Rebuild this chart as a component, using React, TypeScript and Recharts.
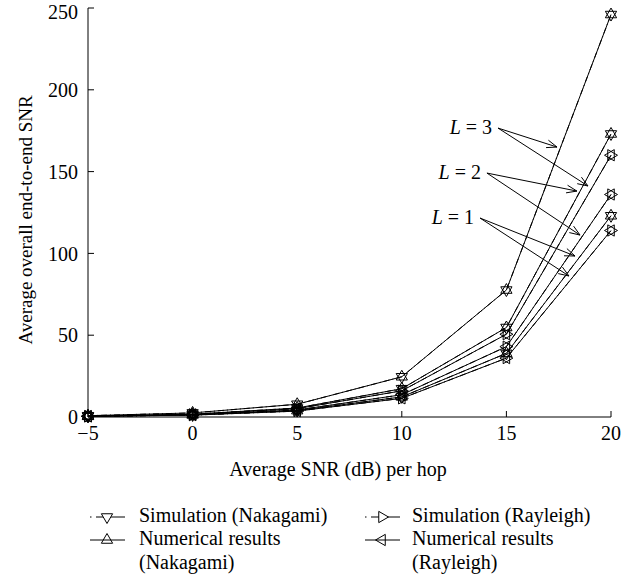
import React from 'react';
import { LineChart, Line, XAxis, YAxis, ReferenceLine, Legend } from 'recharts';

const snrPerHop = [-5, 0, 5, 10, 15, 20];
const xTicks = [-5, 0, 5, 10, 15, 20];
const yTicks = [0, 50, 100, 150, 200, 250];

const simNakagamiL3 = [0.8, 2.5, 7.8, 24.6, 77.6, 246];
const numNakagamiL3 = [0.8, 2.5, 7.8, 24.6, 77.6, 246];
const simNakagamiL2 = [0.55, 1.7, 5.5, 17.3, 54.7, 173];
const numNakagamiL2 = [0.55, 1.7, 5.5, 17.3, 54.7, 173];
const simNakagamiL1 = [0.39, 1.23, 3.9, 12.3, 38.9, 123];
const numNakagamiL1 = [0.39, 1.23, 3.9, 12.3, 38.9, 123];
const simRayleighL3 = [0.5, 1.6, 5.1, 16.0, 50.6, 160];
const numRayleighL3 = [0.5, 1.6, 5.1, 16.0, 50.6, 160];
const simRayleighL2 = [0.43, 1.36, 4.3, 13.6, 43.0, 136];
const numRayleighL2 = [0.43, 1.36, 4.3, 13.6, 43.0, 136];
const simRayleighL1 = [0.36, 1.14, 3.6, 11.4, 36.0, 114];
const numRayleighL1 = [0.36, 1.14, 3.6, 11.4, 36.0, 114];

const annLabels = ['3', '2', '1'];
const annStartX = [14.6, 14.07, 13.74];
const annStartY = [176.6, 149.1, 121.6];
const annTipX = [[17.42, 18.9], [18.37, 18.52], [18.28, 17.99]];
const annTipY = [[165.0, 141.2], [138.1, 111.2], [98.4, 86.2]];

const legendLabels = [
  ['Simulation (Nakagami)'],
  ['Simulation (Rayleigh)'],
  ['Numerical results', '(Nakagami)'],
  ['Numerical results', '(Rayleigh)'],
];

const data = snrPerHop.map((x, i) => ({
  x,
  sN3: simNakagamiL3[i], nN3: numNakagamiL3[i],
  sN2: simNakagamiL2[i], nN2: numNakagamiL2[i],
  sN1: simNakagamiL1[i], nN1: numNakagamiL1[i],
  sR3: simRayleighL3[i], nR3: numRayleighL3[i],
  sR2: simRayleighL2[i], nR2: numRayleighL2[i],
  sR1: simRayleighL1[i], nR1: numRayleighL1[i],
}));

const FONT = '"Liberation Serif", "Times New Roman", serif';
const R = 6.5;

type Dir = 'up' | 'down' | 'left' | 'right';
const triPath = (cx: number, cy: number, d: Dir) => {
  const a = R, b = R * 0.866, c = R * 0.5;
  switch (d) {
    case 'up': return `M${cx},${cy - a}L${cx + b},${cy + c}L${cx - b},${cy + c}Z`;
    case 'down': return `M${cx},${cy + a}L${cx + b},${cy - c}L${cx - b},${cy - c}Z`;
    case 'right': return `M${cx + a},${cy}L${cx - c},${cy + b}L${cx - c},${cy - b}Z`;
    default: return `M${cx - a},${cy}L${cx + c},${cy + b}L${cx + c},${cy - b}Z`;
  }
};

const makeDot = (d: Dir) => (p: any) => {
  if (p.cx == null || p.cy == null) return <g key={p.index} />;
  return <path key={p.index} d={triPath(p.cx, p.cy, d)} fill="none" stroke="#000" strokeWidth={1} />;
};

const makeArrow = (label: string | null) => (p: any) => {
  const { x1, y1, x2, y2 } = p;
  const ang = Math.atan2(y2 - y1, x2 - x1);
  const L = 11, w = 0.36;
  const ax = x2 - L * Math.cos(ang - w), ay = y2 - L * Math.sin(ang - w);
  const bx = x2 - L * Math.cos(ang + w), by = y2 - L * Math.sin(ang + w);
  return (
    <g>
      <line x1={x1} y1={y1} x2={x2} y2={y2} stroke="#000" strokeWidth={1} />
      <path d={`M${ax},${ay}L${x2},${y2}L${bx},${by}`} fill="none" stroke="#000" strokeWidth={1} />
      {label != null && (
        <text x={x1 - 6} y={y1 + 6} textAnchor="end" fontFamily={FONT} fontSize={20} fill="#000">
          <tspan fontStyle="italic">L</tspan>
          <tspan> = {label}</tspan>
        </text>
      )}
    </g>
  );
};

const LegendIcon = ({ x, y, d, dashed }: { x: number; y: number; d: Dir; dashed: boolean }) => (
  <g>
    {dashed ? (
      <>
        <line x1={x} y1={y} x2={x + 1.5} y2={y} stroke="#000" strokeWidth={1} />
        <line x1={x + 6} y1={y} x2={x + 35} y2={y} stroke="#000" strokeWidth={1} />
      </>
    ) : (
      <line x1={x} y1={y} x2={x + 35} y2={y} stroke="#000" strokeWidth={1} />
    )}
    <path d={triPath(x + 17, y, d)} fill={dashed ? '#fff' : 'none'} stroke="#000" strokeWidth={1} />
  </g>
);

const LegendContent = () => {
  const top = 500;
  const rows = [522, 545, 569].map((v) => v - top);
  const icons: { x: number; d: Dir; dashed: boolean }[] = [
    { x: 90, d: 'down', dashed: true },
    { x: 365, d: 'right', dashed: true },
    { x: 90, d: 'up', dashed: false },
    { x: 365, d: 'left', dashed: false },
  ];
  return (
    <svg width={639} height={86} style={{ display: 'block' }}>
      {legendLabels.map((lines, i) => {
        const col = i % 2;
        const r = Math.floor(i / 2);
        const tx = col === 0 ? 139 : 412;
        const baseY = rows[r];
        return (
          <g key={i}>
            <LegendIcon x={icons[i].x} y={baseY - 5} d={icons[i].d} dashed={icons[i].dashed} />
            {lines.map((t, k) => (
              <text key={k} x={tx} y={rows[r + k]} fontFamily={FONT} fontSize={20} fill="#000">{t}</text>
            ))}
          </g>
        );
      })}
    </svg>
  );
};

const seriesDefs: { key: string; dir: Dir; sim: boolean }[] = [
  { key: 'sN3', dir: 'down', sim: true },
  { key: 'sN2', dir: 'down', sim: true },
  { key: 'sN1', dir: 'down', sim: true },
  { key: 'sR3', dir: 'right', sim: true },
  { key: 'sR2', dir: 'right', sim: true },
  { key: 'sR1', dir: 'right', sim: true },
  { key: 'nN3', dir: 'up', sim: false },
  { key: 'nN2', dir: 'up', sim: false },
  { key: 'nN1', dir: 'up', sim: false },
  { key: 'nR3', dir: 'left', sim: false },
  { key: 'nR2', dir: 'left', sim: false },
  { key: 'nR1', dir: 'left', sim: false },
];

const tickStyle = { fontFamily: FONT, fontSize: 20, fill: '#000' };
const fmtX = (v: number) => (v < 0 ? `\u2212${-v}` : `${v}`);

export default function App() {
  return (
    <div style={{ position: 'absolute', left: 0, top: 0, width: 639, height: 586, background: '#fff' }}>
      <LineChart
        width={639}
        height={586}
        data={data}
        margin={{ top: 8, right: 28, bottom: 109, left: 0 }}
        style={{ overflow: 'visible' }}
      >
        <XAxis
          dataKey="x"
          type="number"
          domain={[-5, 20]}
          ticks={xTicks}
          tickFormatter={fmtX}
          height={60}
          tickSize={-6}
          tickMargin={15}
          stroke="#000"
          tick={tickStyle}
          label={(props: any) => (
            <text x={338} y={476} textAnchor="middle" fontFamily={FONT} fontSize={20} fill="#000">
              Average SNR (dB) per hop
            </text>
          )}
        />
        <XAxis
          xAxisId="top"
          orientation="top"
          dataKey="x"
          type="number"
          domain={[-5, 20]}
          ticks={xTicks}
          height={0}
          tickSize={-6}
          tickFormatter={() => ''}
          stroke="#000"
        />
        <YAxis
          type="number"
          domain={[0, 250]}
          ticks={yTicks}
          width={88}
          tickSize={-6}
          tickMargin={16}
          stroke="#000"
          tick={tickStyle}
          label={(props: any) => (
            <text
              x={25}
              y={220}
              transform="rotate(-90 25 220)"
              textAnchor="middle"
              dominantBaseline="central"
              fontFamily={FONT}
              fontSize={19}
              fill="#000"
            >
              Average overall end-to-end SNR
            </text>
          )}
        />
        <YAxis
          yAxisId="right"
          orientation="right"
          type="number"
          domain={[0, 250]}
          ticks={yTicks}
          width={0}
          tickSize={-6}
          tickFormatter={() => ''}
          stroke="#000"
        />
        {seriesDefs.map((s) => (
          <Line
            key={s.key}
            dataKey={s.key}
            stroke="#000"
            strokeWidth={1}
            strokeDasharray={s.sim ? '6 3 1 3' : undefined}
            dot={makeDot(s.dir)}
            activeDot={false}
            isAnimationActive={false}
            legendType="none"
          />
        ))}
        {annLabels.map((lab, g) =>
          [0, 1].map((k) => (
            <ReferenceLine
              key={`a${g}${k}`}
              segment={[
                { x: annStartX[g], y: annStartY[g] },
                { x: annTipX[g][k], y: annTipY[g][k] },
              ]}
              ifOverflow="visible"
              shape={makeArrow(k === 0 ? lab : null)}
            />
          ))
        )}
        <Legend
          layout="horizontal"
          verticalAlign="middle"
          align="center"
          content={() => <LegendContent />}
          wrapperStyle={{ position: 'absolute', left: 0, top: 500, width: 639, height: 86 }}
        />
      </LineChart>
    </div>
  );
}
